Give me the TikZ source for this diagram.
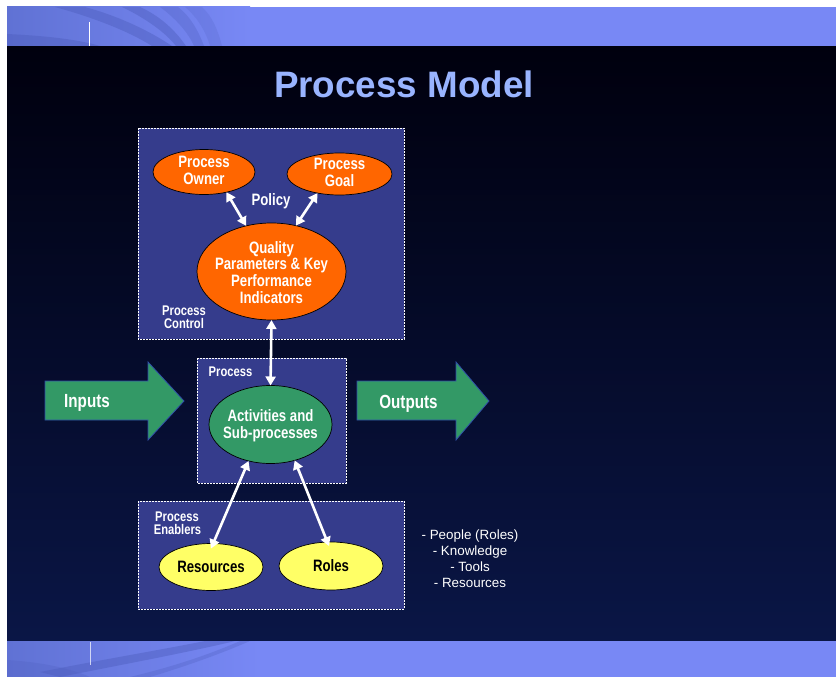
\documentclass[tikz,border=0pt]{standalone}
\usepackage{fontspec}
\setmainfont{Liberation Sans}
\newfontfamily\narrowsans{Liberation Sans}[FakeStretch=0.8]
\usetikzlibrary{arrows.meta,shapes.geometric}
\definecolor{banner}{HTML}{7888F5}
\definecolor{bannerdark}{HTML}{4E5EBE}
\definecolor{bannermid}{HTML}{6072D4}
\definecolor{bgtop}{HTML}{00000E}
\definecolor{bgbot}{HTML}{0A1646}
\definecolor{panel}{HTML}{353C8C}
\definecolor{titleblue}{HTML}{99B4FF}
\definecolor{orangefill}{HTML}{FF6600}
\definecolor{greenfill}{HTML}{339966}
\definecolor{yellowfill}{HTML}{FFFF66}
\definecolor{arrowedge}{HTML}{2F4FA8}
\begin{document}
\begin{tikzpicture}[x=1pt,y=-1pt,
  panelbox/.style={fill=panel, draw=white, dash pattern=on 1.6pt off 1.4pt, line width=0.7pt},
  blob/.style={ellipse, draw=black, line width=0.7pt, inner sep=0pt, outer sep=0pt},
  blobtxt/.style={text=white, inner sep=0pt, align=center,
    font=\narrowsans\bfseries\fontsize{16.5}{16.8}\selectfont},
  tag/.style={text=white, align=center, inner sep=0pt,
    font=\narrowsans\bfseries\fontsize{14}{12.8}\selectfont},
  bigtag/.style={text=white, inner sep=0pt, font=\narrowsans\bfseries\fontsize{19}{20}\selectfont},
  listtxt/.style={text=white, inner sep=0pt, font=\fontsize{13.4}{16}\selectfont},
  link/.style={draw=white, line width=2.6pt, {Triangle[width=10pt,length=9pt]}-{Triangle[width=10pt,length=9pt]}},
  blockarrow/.style={fill=greenfill, draw=arrowedge, line width=0.8pt, line join=miter},
  swoosh/.style={bannerdark, opacity=0.45}
]
\useasboundingbox (0,0) rectangle (836,677);
\fill[white] (0,0) rectangle (836,677);

% dark slide body
\shade[top color=bgtop, bottom color=bgbot] (7,46) rectangle (836,641);

% top banner with swooshes
\begin{scope}
  \clip (7,7) rectangle (836,46);
  \fill[banner] (7,7) rectangle (836,46);
  \shade[left color=bannermid, right color=banner] (7,7) rectangle (250,46);
  \fill[swoosh] (7,34) .. controls (50,36) and (80,40) .. (100,46) -- (7,46) -- cycle;
  \fill[swoosh] (55,7) .. controls (95,18) and (130,32) .. (152,46) -- (172,46)
      .. controls (148,30) and (118,16) .. (85,7) -- cycle;
  \fill[swoosh] (122,7) .. controls (145,18) and (165,32) .. (176,46) -- (186,46)
      .. controls (175,30) and (160,16) .. (140,7) -- cycle;
  \fill[swoosh, opacity=0.3] (160,7) .. controls (175,18) and (188,32) .. (194,46) -- (204,46)
      .. controls (198,30) and (190,16) .. (178,7) -- cycle;
  \fill[swoosh, opacity=0.2] (185,7) .. controls (198,18) and (206,32) .. (210,46) -- (222,46)
      .. controls (218,30) and (212,16) .. (202,7) -- cycle;
\end{scope}
\draw[white, line width=0.6pt] (89,22) -- (89,46);

% bottom banner with swooshes
\begin{scope}
  \clip (7,641) rectangle (836,677);
  \fill[banner] (7,641) rectangle (836,677);
  \shade[left color=bannermid, right color=banner] (7,641) rectangle (260,677);
  \fill[swoosh] (60,677) .. controls (120,665) and (190,652) .. (235,641) -- (205,641)
      .. controls (160,650) and (100,660) .. (40,672) -- cycle;
  \fill[swoosh, opacity=0.3] (150,677) .. controls (190,665) and (225,652) .. (250,641) -- (240,641)
      .. controls (215,652) and (180,665) .. (130,677) -- cycle;
  \fill[swoosh, opacity=0.25] (7,660) .. controls (40,662) and (70,668) .. (90,677) -- (7,677) -- cycle;
\end{scope}
\draw[white, opacity=0.7, line width=0.6pt] (90,642) -- (90,665);

% title
\node[font=\bfseries\fontsize{36.8}{40}\selectfont, text=titleblue, anchor=base, inner sep=0pt]
  (title) at (404,97) {Process Model};

% panels
\fill[panelbox] (138,128) rectangle (404,339);
\fill[panelbox] (197,358) rectangle (346,483);
\fill[panelbox] (138,501) rectangle (404,609);

% input / output block arrows
\path[blockarrow] (45,381) -- (148,381) -- (148,362) -- (184,401) -- (148,440) -- (148,420) -- (45,420) -- cycle;
\path[blockarrow] (357,381) -- (456,381) -- (456,362) -- (489,401) -- (456,440) -- (456,420) -- (357,420) -- cycle;
\node[bigtag, anchor=base] (inputs) at (87,407) {Inputs};
\node[bigtag, anchor=base] (outputs) at (408.5,408) {Outputs};

% ellipses
\node[blob, fill=orangefill, minimum width=102pt, minimum height=45pt] (owner) at (204,172) {};
\node[blob, fill=orangefill, minimum width=105pt, minimum height=42pt] (goal) at (339.5,174) {};
\node[blob, fill=orangefill, minimum width=149pt, minimum height=97pt] (quality) at (271.5,271.5) {};
\node[blob, fill=greenfill, minimum width=123pt, minimum height=78pt] (activities) at (270.5,424.5) {};
\node[blob, fill=yellowfill, minimum width=104pt, minimum height=47pt] (resources) at (211,567) {};
\node[blob, fill=yellowfill, minimum width=104pt, minimum height=48pt] (roles) at (331,566) {};

% ellipse texts
\node[blobtxt] (ownertxt) at ([yshift=1.5pt]owner.center) {Process\\Owner};
\node[blobtxt] (goaltxt) at ([yshift=1.5pt]goal.center) {Process\\Goal};
\node[blobtxt] (qualitytxt) at ([yshift=-1pt]quality.center)
  {Quality\\Parameters \& Key\\Performance\\Indicators};
\node[blobtxt] (activitiestxt) at ([yshift=-1pt]activities.center) {Activities and\\Sub-processes};
\node[blobtxt, text=black] (resourcestxt) at (resources.center) {Resources};
\node[blobtxt, text=black] (rolestxt) at (roles.center) {Roles};

% labels
\node[blobtxt, anchor=base] (policy) at (271,205) {Policy};
\node[tag, anchor=base] (ctrlA) at (184,315) {Process};
\node[tag, anchor=base] (ctrlB) at (184,328) {Control};
\node[tag, anchor=base] (proc) at (230.5,376) {Process};
\node[tag, anchor=base] (enA) at (177,521) {Process};
\node[tag, anchor=base] (enB) at (177.5,534) {Enablers};

% enabler list
\node[listtxt, anchor=base] (l1) at (470,539) {- People (Roles)};
\node[listtxt, anchor=base] (l2) at (470,555) {- Knowledge};
\node[listtxt, anchor=base] (l3) at (470,571) {- Tools};
\node[listtxt, anchor=base] (l4) at (470,587) {- Resources};

% connectors
\draw[link] (owner.-42) -- (quality.119);
\draw[link] (goal.221) -- (quality.62);
\draw[link] (quality.south) -- (activities.north);
\draw[link] (activities.239) -- ([yshift=-5pt]resources.north);
\draw[link] (activities.304) -- ([xshift=-2pt,yshift=-4pt]roles.north);
\end{tikzpicture}
\end{document}
